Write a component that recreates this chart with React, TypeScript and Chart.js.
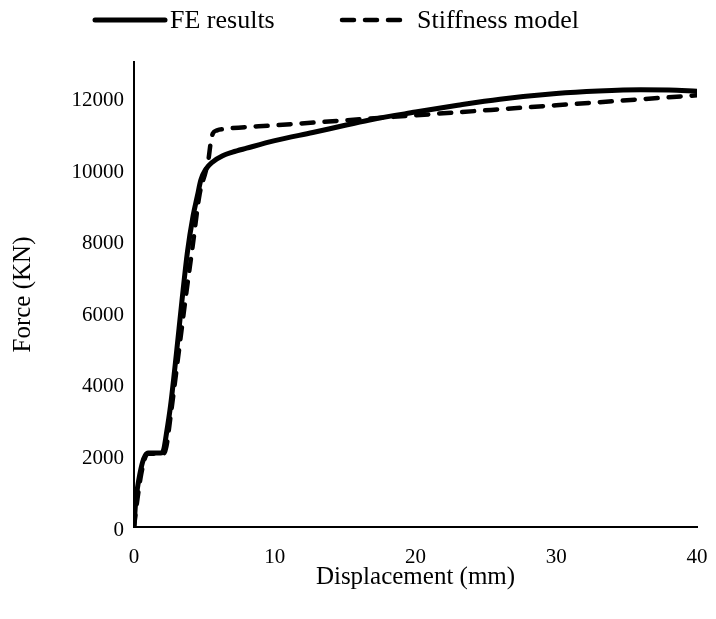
import { useEffect, useRef } from "react";
import { Chart, registerables } from "chart.js";

Chart.register(...registerables);

// FE results: displacement (mm) vs force (kN)
const feDisp = [0, 0.1, 0.25, 0.4, 0.6, 0.8, 1.0, 1.9, 2.1, 2.3, 2.6, 3.0, 3.4, 3.8, 4.2, 4.5, 4.75, 5.1, 5.6, 6.3, 7, 8, 10, 12.7, 15, 17, 20, 23, 26, 30, 33, 36, 38, 40];
const feForce = [0, 600, 1100, 1450, 1800, 2000, 2070, 2070, 2150, 2600, 3400, 4800, 6300, 7700, 8700, 9250, 9700, 10000, 10210, 10380, 10480, 10590, 10800, 11030, 11230, 11400, 11600, 11790, 11960, 12120, 12190, 12225, 12220, 12180];

// Stiffness model: displacement (mm) vs force (kN)
const stiffDisp = [0, 0.25, 0.5, 0.8, 1.0, 2.1, 2.3, 2.6, 3.2, 3.7, 4.15, 4.66, 5.1, 5.3, 5.45, 5.6, 5.9, 6.5, 10, 20, 30, 40];
const stiffForce = [0, 800, 1450, 1950, 2050, 2050, 2250, 3100, 4950, 6500, 7800, 9300, 9950, 10300, 10750, 11000, 11090, 11130, 11230, 11510, 11790, 12070];

const seriesNames = ["FE results", "Stiffness model"];
const forceTicks = [0, 2000, 4000, 6000, 8000, 10000, 12000];
const dispTicks = [0, 10, 20, 30, 40];

const FONT = "'Liberation Serif', 'Times New Roman', serif";

const toPoints = (xs: number[], ys: number[]) => xs.map((x, i) => ({ x, y: ys[i] }));

// Line-sample legend drawn above the plot
const lineLegend = {
  id: "lineLegend",
  afterDraw(chart: any) {
    const ctx = chart.ctx as CanvasRenderingContext2D;
    const slots = [
      { x0: 95, x1: 165, tx: 170 },
      { x0: 342, x1: 403, tx: 417 },
    ];
    const y = 20;
    ctx.save();
    chart.data.datasets.forEach((ds: any, i: number) => {
      const s = slots[i];
      ctx.beginPath();
      ctx.lineWidth = ds.borderWidth;
      ctx.strokeStyle = ds.borderColor;
      ctx.lineCap = "round";
      ctx.setLineDash(ds.borderDash || []);
      ctx.moveTo(s.x0, y);
      ctx.lineTo(s.x1, y);
      ctx.stroke();
      ctx.setLineDash([]);
      ctx.fillStyle = "#000";
      ctx.font = `26px ${FONT}`;
      ctx.textBaseline = "middle";
      ctx.textAlign = "left";
      ctx.fillText(ds.label, s.tx, y + 1);
    });
    ctx.restore();
  },
};

export default function App() {
  const ref = useRef<HTMLCanvasElement | null>(null);

  useEffect(() => {
    if (!ref.current) return;
    const chart = new Chart(ref.current, {
      type: "line",
      data: {
        datasets: [
          {
            label: seriesNames[0],
            data: toPoints(feDisp, feForce),
            borderColor: "#000",
            borderWidth: 5,
            pointRadius: 0,
            cubicInterpolationMode: "monotone",
            borderCapStyle: "round",
            borderJoinStyle: "round",
            fill: false,
          },
          {
            label: seriesNames[1],
            data: toPoints(stiffDisp, stiffForce),
            borderColor: "#000",
            borderWidth: 4.5,
            borderDash: [12, 11],
            pointRadius: 0,
            cubicInterpolationMode: "monotone",
            borderCapStyle: "round",
            borderJoinStyle: "round",
            fill: false,
          },
        ],
      },
      options: {
        animation: false,
        responsive: false,
        maintainAspectRatio: false,
        layout: { padding: { top: 62, right: 19, left: 0, bottom: 0 } },
        plugins: {
          legend: { display: false },
          tooltip: { enabled: false },
        },
        scales: {
          x: {
            type: "linear",
            min: 0,
            max: 40,
            afterBuildTicks: (scale: any) => {
              scale.ticks = dispTicks.map((v) => ({ value: v }));
            },
            afterFit: (scale: any) => {
              scale.height = 92;
              scale.paddingLeft = 0;
              scale.paddingRight = 0;
            },
            grid: { display: false, drawTicks: false },
            border: { display: true, color: "#000", width: 2 },
            ticks: {
              color: "#000",
              font: { family: FONT, size: 21 },
              padding: 18,
              maxRotation: 0,
              callback: (v: any) => String(v),
            },
            title: {
              display: true,
              text: "Displacement (mm)",
              color: "#000",
              font: { family: FONT, size: 25, lineHeight: 1 },
              padding: { top: 0, bottom: 29 },
            },
          },
          y: {
            type: "linear",
            min: 0,
            max: 13000,
            afterBuildTicks: (scale: any) => {
              scale.ticks = forceTicks.map((v) => ({ value: v }));
            },
            afterFit: (scale: any) => {
              scale.width = 134;
            },
            grid: { display: false, drawTicks: false },
            border: { display: true, color: "#000", width: 2 },
            ticks: {
              color: "#000",
              font: { family: FONT, size: 21 },
              padding: 10,
              labelOffset: 3,
              callback: (v: any) => String(v),
            },
            title: {
              display: true,
              text: "Force (KN)",
              color: "#000",
              font: { family: FONT, size: 25, lineHeight: 1 },
              padding: { top: 11, bottom: 0 },
            },
          },
        },
      },
      plugins: [lineLegend],
    });
    return () => chart.destroy();
  }, []);

  return (
    <canvas
      ref={ref}
      width={716}
      height={619}
      style={{ position: "absolute", left: 0, top: 0, display: "block" }}
    />
  );
}
